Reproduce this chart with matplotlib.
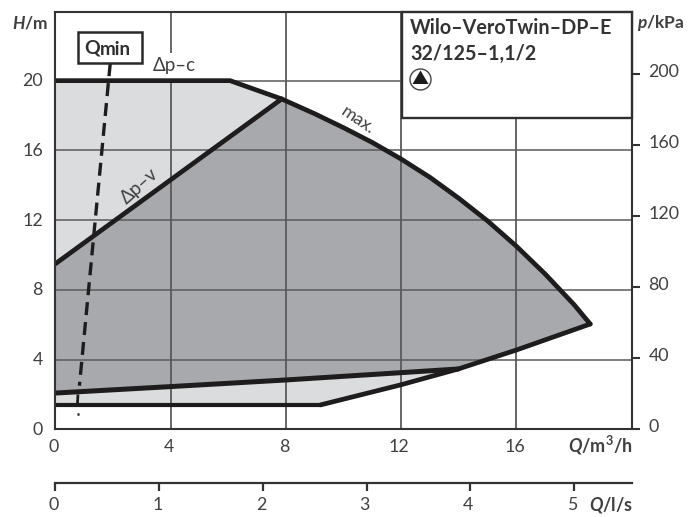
import matplotlib
matplotlib.use('Agg')
import matplotlib.pyplot as plt
from matplotlib.patches import Polygon, Rectangle, Ellipse
from matplotlib.transforms import ScaledTranslation

plt.rcParams['font.family'] = ['Lato', 'DejaVu Sans']
plt.rcParams['mathtext.fontset'] = 'custom'
plt.rcParams['mathtext.rm'] = 'Lato'
plt.rcParams['mathtext.bf'] = 'Lato:bold'
plt.rcParams['mathtext.bfit'] = 'Lato:italic:bold'

# --- data ---
q_ticks = [0, 4, 8, 12, 16]
h_ticks = [0, 4, 8, 12, 16, 20]
p_ticks = [0, 40, 80, 120, 160, 200]
ls_ticks = [0, 1, 2, 3, 4, 5]

dpc_q = [0, 6.06, 7.85]
dpc_h = [20, 20, 18.95]
dpv_q = [0, 7.85]
dpv_h = [9.5, 18.95]
max_q = [7.85, 9, 10, 11, 12, 13, 14, 15, 16, 17, 18, 18.56]
max_h = [18.95, 18.1, 17.3, 16.45, 15.5, 14.45, 13.25, 11.95, 10.5, 8.9, 7.15, 6.04]
right_q = [18.56, 16.0, 13.98, 11.96, 9.2]
right_h = [6.04, 4.55, 3.46, 2.54, 1.4]
low_q = [0, 9.2]
low_h = [1.4, 1.4]
minv_q = [0, 4, 8, 12, 13.98]
minv_h = [2.08, 2.45, 2.83, 3.25, 3.46]
qmin_q = [1.9, 0.83]
qmin_h = [21.0, 2.5]
qmin_low_q = [0.78, 0.76]
qmin_low_h = [2.0, 1.4]
qmin_dot_q = [0.74, 0.8]
qmin_dot_h = [0.9, 0.9]

W, H = 690, 517
L, R, T, B = 55.5, 631.7, 11.8, 429.3
DARK = '#a7a9ac'
LIGHT = '#dbdcdd'
LINE = '#1f1c1d'
GRID = '#5a5a5c'
TEXT = '#404042'
FS = 12.8

fig = plt.figure(figsize=(W / 100, H / 100), dpi=100, facecolor='white')
ax = fig.add_axes([L / W, 1 - B / H, (R - L) / W, (B - T) / H])
ax.set_xlim(0, 20)
ax.set_ylim(0, 23.95)

# fills
light_up = list(zip(dpc_q, dpc_h)) + [(0, 9.5)]
ax.add_patch(Polygon(light_up, fc=LIGHT, ec='none', zorder=1))
light_low = list(zip(low_q, low_h)) + [(13.98, 3.46), (0, 2.08)]
ax.add_patch(Polygon(light_low, fc=LIGHT, ec='none', zorder=1))
dark = list(zip(max_q, max_h)) + [(16.0, 4.55)] + list(zip(minv_q[::-1], minv_h[::-1])) + [(0, 9.5)]
ax.add_patch(Polygon(dark, fc=DARK, ec='none', zorder=1))

# grid
for v in q_ticks[1:]:
    if v == 4:
        ax.plot([v, v], [0, 20], color=GRID, lw=1.3, zorder=2, solid_capstyle='butt')
        ax.plot([v, v], [21.6, 23.95], color=GRID, lw=1.3, zorder=2, solid_capstyle='butt')
    else:
        ax.plot([v, v], [0, 23.95], color=GRID, lw=1.3, zorder=2, solid_capstyle='butt')
for v in h_ticks[1:]:
    ax.plot([0, 20], [v, v], color=GRID, lw=1.1, zorder=2, solid_capstyle='butt')

# curves
kw = dict(color=LINE, zorder=4, solid_joinstyle='round', solid_capstyle='round')
ax.plot(dpc_q, dpc_h, lw=3.4, **kw)
ax.plot(max_q, max_h, lw=3.4, **kw)
ax.plot(dpv_q, dpv_h, lw=3.4, **kw)
ax.plot(right_q, right_h, lw=3.4, **kw)
ax.plot(low_q, low_h, lw=3.0, **kw)
ax.plot(minv_q, minv_h, lw=3.6, **kw)
ax.plot(qmin_q, qmin_h, color=LINE, lw=2.4, zorder=5, dashes=(3.9, 2.1))
ax.plot(qmin_low_q, qmin_low_h, color=LINE, lw=2.0, zorder=5, solid_capstyle='butt')
ax.plot(qmin_dot_q, qmin_dot_h, color=LINE, lw=1.8, zorder=5, solid_capstyle='butt')

# spines / ticks
for s in ax.spines.values():
    s.set_color('#333335')
    s.set_linewidth(1.5)
    s.set_zorder(7)
ax.set_xticks(q_ticks)
ax.set_yticks(h_ticks)
ax.tick_params(axis='both', length=0, labelsize=FS, labelcolor=TEXT)
ax.tick_params(axis='x', pad=7)
ax.tick_params(axis='y', pad=9)


def shift(labels, dx, dy):
    for lab in labels:
        lab.set_transform(lab.get_transform() + ScaledTranslation(dx / 100, dy / 100, fig.dpi_scale_trans))


shift(ax.get_xticklabels(), -2, 0)
shift(ax.get_yticklabels(), 0, 1)

# right pressure axis
ax2 = ax.twinx()
ax2.set_ylim(0, (B - T) / 1.775)
ax2.set_yticks(p_ticks)
ax2.tick_params(axis='y', length=6, width=1.5, color='#333335', labelsize=FS,
                labelcolor=TEXT, pad=6)
for s in ax2.spines.values():
    s.set_visible(False)
ax2.patch.set_visible(False)
shift(ax2.get_yticklabels(), 0, 4)

# lower flow axis
bx = fig.add_axes([L / W, 1 - 483.3 / H, (R - L) / W, 0.001])
bx.set_xlim(0, 20 / 3.6)
bx.set_ylim(0, 1)
bx.set_yticks([])
bx.set_xticks(ls_ticks)
for k in ['left', 'right', 'top']:
    bx.spines[k].set_visible(False)
bx.spines['bottom'].set_color('#333335')
bx.spines['bottom'].set_linewidth(1.6)
bx.tick_params(axis='x', length=6, width=1.6, color='#333335', labelsize=FS,
               labelcolor=TEXT, pad=4)
bx.patch.set_visible(False)
shift(bx.get_xticklabels(), -2, 0)


def px(x, y, s, **k):
    k.setdefault('color', TEXT)
    return fig.text(x / W, 1 - y / H, s, **k)


# axis titles
px(48, 23, r'$\mathbfit{H}\mathbf{/m}$', ha='right', va='center', fontsize=12.5)
px(637, 23, r'$\mathbfit{p}\mathbf{/kPa}$', ha='left', va='center', fontsize=12.5)
px(633, 445, r'$\mathbfit{Q}\mathbf{/m^{3}/h}$', ha='right', va='center', fontsize=13)
px(633, 505, r'$\mathbfit{Q}\mathbf{/l/s}$', ha='right', va='center', fontsize=13)

# curve labels
px(174, 65, 'Δp–c', ha='center', va='center', fontsize=13.5)
px(139, 186, 'Δp–v', ha='center', va='center', fontsize=13.5, rotation=42)
px(358, 120, 'max.', ha='center', va='center', fontsize=13, rotation=-34)

# Qmin box
fig.patches.append(Rectangle((78 / W, 1 - 63 / H), 64 / W, 31 / H, transform=fig.transFigure,
                             fc='white', ec='#2a2a2c', lw=1.8, zorder=8))
px(100, 48, 'Q', ha='right', va='center', fontsize=14, fontweight='bold', zorder=9, color='#2e2e30')
px(100, 50, 'min', ha='left', va='center', fontsize=13.5, fontweight='bold', zorder=9, color='#2e2e30')

# title box
fig.patches.append(Rectangle((401.7 / W, 1 - 117.5 / H), (R - 401.7) / W, (117.5 - T) / H,
                             transform=fig.transFigure, fc='white', ec='#2f2f31', lw=1.7, zorder=8))
px(410, 28, 'Wilo–VeroTwin–DP–E', ha='left', va='center', fontsize=14.2,
   fontweight='bold', zorder=9, color='#333335')
px(410, 54, '32/125–1,1/2', ha='left', va='center', fontsize=14.2,
   fontweight='bold', zorder=9, color='#333335')

# pump symbol
fig.patches.append(Ellipse((420.5 / W, 1 - 79.5 / H), 21 / W, 21 / H,
                   transform=fig.transFigure, fc='white', ec='#444446', lw=1.0, zorder=9))
fig.patches.append(Polygon([(420.5 / W, 1 - 70.5 / H), (412.5 / W, 1 - 84 / H), (428.5 / W, 1 - 84 / H)],
                   closed=True, transform=fig.transFigure, fc='#1f1c1d', ec='none', zorder=10))

fig.savefig('out.png', dpi=100, facecolor='white')
